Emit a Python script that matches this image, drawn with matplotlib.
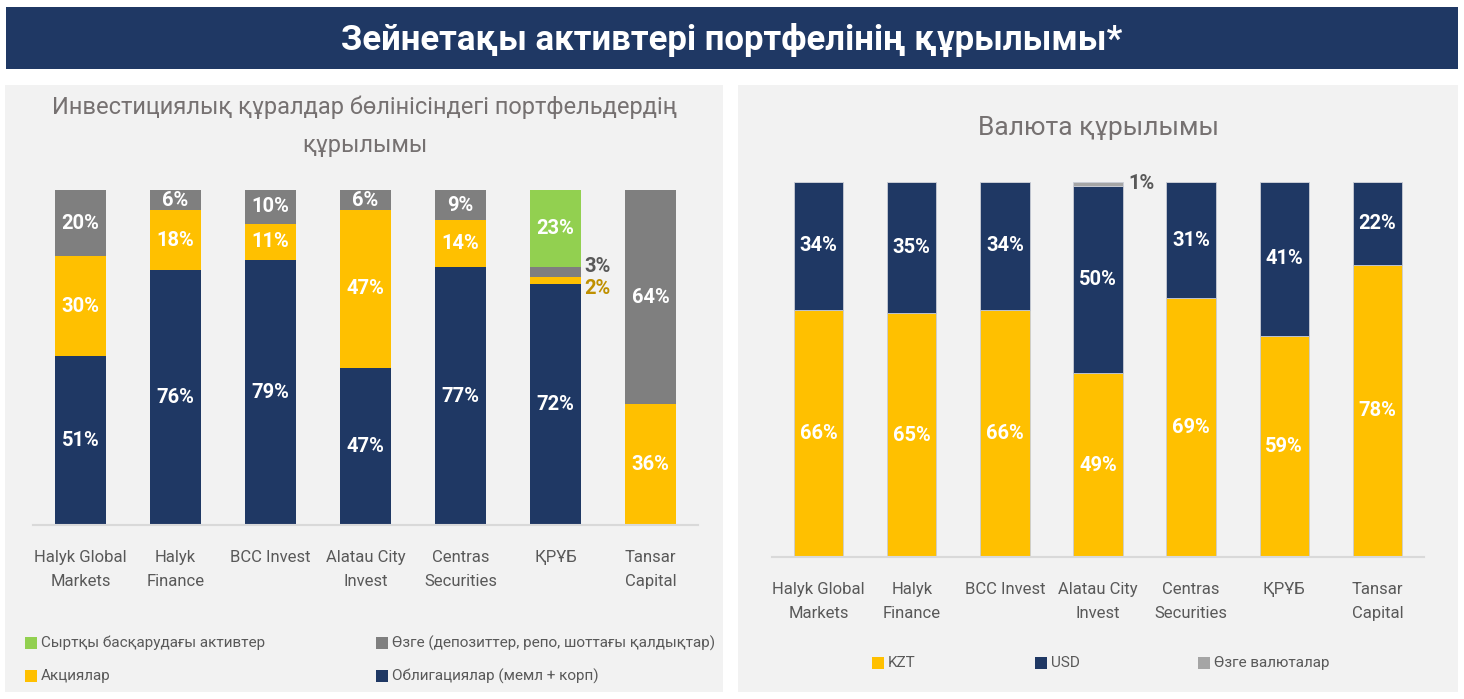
import numpy as np
import matplotlib.pyplot as plt
from matplotlib.patches import Rectangle

plt.rcParams['font.family'] = ['Roboto', 'DejaVu Sans']

W, H = 1464, 699

companies = ["Halyk Global\nMarkets", "Halyk\nFinance", "BCC Invest", "Alatau City\nInvest",
             "Centras\nSecurities", "ҚРҰБ", "Tansar\nCapital"]

# left chart: by instrument, %
bonds = [51, 76, 79, 47, 77, 72, 0]
stocks = [30, 18, 11, 47, 14, 2, 36]
other = [20, 6, 10, 6, 9, 3, 64]
external = [0, 0, 0, 0, 0, 23, 0]

# right chart: by currency, %
kzt = [66, 65, 66, 49, 69, 59, 78]
usd = [34, 35, 34, 50, 31, 41, 22]
other_cur = [0, 0, 0, 1, 0, 0, 0]

NAVY = "#1F3864"
YELLOW = "#FFC000"
GREY = "#7F7F7F"
GREEN = "#92D050"
LGREY = "#A5A5A5"
PANEL = "#F2F2F2"
TXT = "#595959"
TTL = "#767171"


def fx(x):
    return x / W


def fy(y):
    return 1 - y / H


def add_axes_px(x0, x1, ytop, ybot):
    return fig.add_axes([fx(x0), fy(ybot), (x1 - x0) / W, (ybot - ytop) / H])


fig = plt.figure(figsize=(W / 100, H / 100), dpi=100)
fig.patch.set_facecolor("white")

# banner and panels
fig.patches.append(Rectangle((fx(6), fy(69)), fx(1452), 62 / H, transform=fig.transFigure,
                             facecolor=NAVY, edgecolor="none", zorder=-2))
fig.patches.append(Rectangle((fx(5), fy(692)), fx(718), 607 / H, transform=fig.transFigure,
                             facecolor=PANEL, edgecolor="none", zorder=-2))
fig.patches.append(Rectangle((fx(738), fy(692)), fx(720), 607 / H, transform=fig.transFigure,
                             facecolor=PANEL, edgecolor="none", zorder=-2))

fig.text(fx(732), fy(40), "Зейнетақы активтері портфелінің құрылымы*", color="white",
         fontsize=25, fontweight="bold", ha="center", va="center")
fig.text(fx(365), fy(126), "Инвестициялық құралдар бөлінісіндегі портфельдердің\nқұрылымы",
         color=TTL, fontsize=17, ha="center", va="center", linespacing=1.85)
fig.text(fx(1098), fy(128), "Валюта құрылымы", color=TTL, fontsize=19, ha="center", va="center")


def style(ax):
    ax.set_facecolor("none")
    for s in ["top", "right", "left"]:
        ax.spines[s].set_visible(False)
    ax.spines["bottom"].set_color("#D9D9D9")
    ax.spines["bottom"].set_linewidth(1.5)
    ax.set_yticks([])
    ax.set_xlim(-0.5, 6.5)
    ax.set_ylim(0, 100)
    ax.tick_params(axis="x", length=0, pad=18, labelsize=12, labelcolor=TXT)


# left chart
ax1 = add_axes_px(33, 698, 190, 525)
style(ax1)
x = np.arange(len(companies))
tot = np.array(bonds) + np.array(stocks) + np.array(other) + np.array(external)
series1 = [(bonds, NAVY), (stocks, YELLOW), (other, GREY), (external, GREEN)]
bottom = np.zeros(len(x))
for vals, col in series1:
    h = np.array(vals) / tot * 100
    ax1.bar(x, h, 0.53, bottom=bottom, color=col, edgecolor="none")
    for i in range(len(x)):
        if vals[i] > 4:
            ax1.text(x[i], bottom[i] + h[i] / 2, f"{vals[i]}%", ha="center", va="center",
                     color="white", fontsize=14.5, fontweight="bold")
    bottom += h
# small labels outside for ҚРҰБ
k = 5
b_st = bonds[k] / tot[k] * 100
ax1.text(k + 0.3, b_st + stocks[k] / tot[k] * 100 / 2 - 2.3, f"{stocks[k]}%", ha="left", va="center",
         color="#BF9000", fontsize=14.5, fontweight="bold")
ax1.text(k + 0.3, b_st + (stocks[k] + other[k] / 2) / tot[k] * 100 + 1.8, f"{other[k]}%", ha="left",
         va="center", color=TXT, fontsize=14.5, fontweight="bold")
ax1.set_xticks(x)
ax1.set_xticklabels(companies, linespacing=1.75, va="top")

# right chart
ax2 = add_axes_px(772, 1424, 182, 557)
style(ax2)
series2 = [(kzt, YELLOW), (usd, NAVY), (other_cur, LGREY)]
bottom = np.zeros(len(x))
for vals, col in series2:
    ax2.bar(x, vals, 0.53, bottom=bottom, color=col, edgecolor="#C9CDD6", linewidth=0.6)
    for i in range(len(x)):
        if vals[i] > 4:
            ax2.text(x[i], bottom[i] + vals[i] / 2, f"{vals[i]}%", ha="center", va="center",
                     color="white", fontsize=14.5, fontweight="bold")
    bottom += np.array(vals)
ax2.text(3 + 0.33, 99.5, f"{other_cur[3]}%", ha="left", va="center", color=TXT,
         fontsize=14.5, fontweight="bold")
ax2.set_xticks(x)
ax2.set_xticklabels(companies, linespacing=1.75, va="top")


# legends
def legend_item(xp, yp, col, txt):
    fig.patches.append(Rectangle((fx(xp), fy(yp + 6)), 12 / W, 12 / H, transform=fig.transFigure,
                                 facecolor=col, edgecolor="none"))
    fig.text(fx(xp + 16), fy(yp), txt, color=TXT, fontsize=11, ha="left", va="center")


legend_item(25, 643, GREEN, "Сыртқы басқарудағы активтер")
legend_item(376, 643, GREY, "Өзге (депозиттер, репо, шоттағы қалдықтар)")
legend_item(25, 676, YELLOW, "Акциялар")
legend_item(376, 676, NAVY, "Облигациялар (мемл + корп)")
legend_item(872, 663, YELLOW, "KZT")
legend_item(1035, 663, NAVY, "USD")
legend_item(1198, 663, LGREY, "Өзге валюталар")

fig.savefig("out.png", dpi=100)
